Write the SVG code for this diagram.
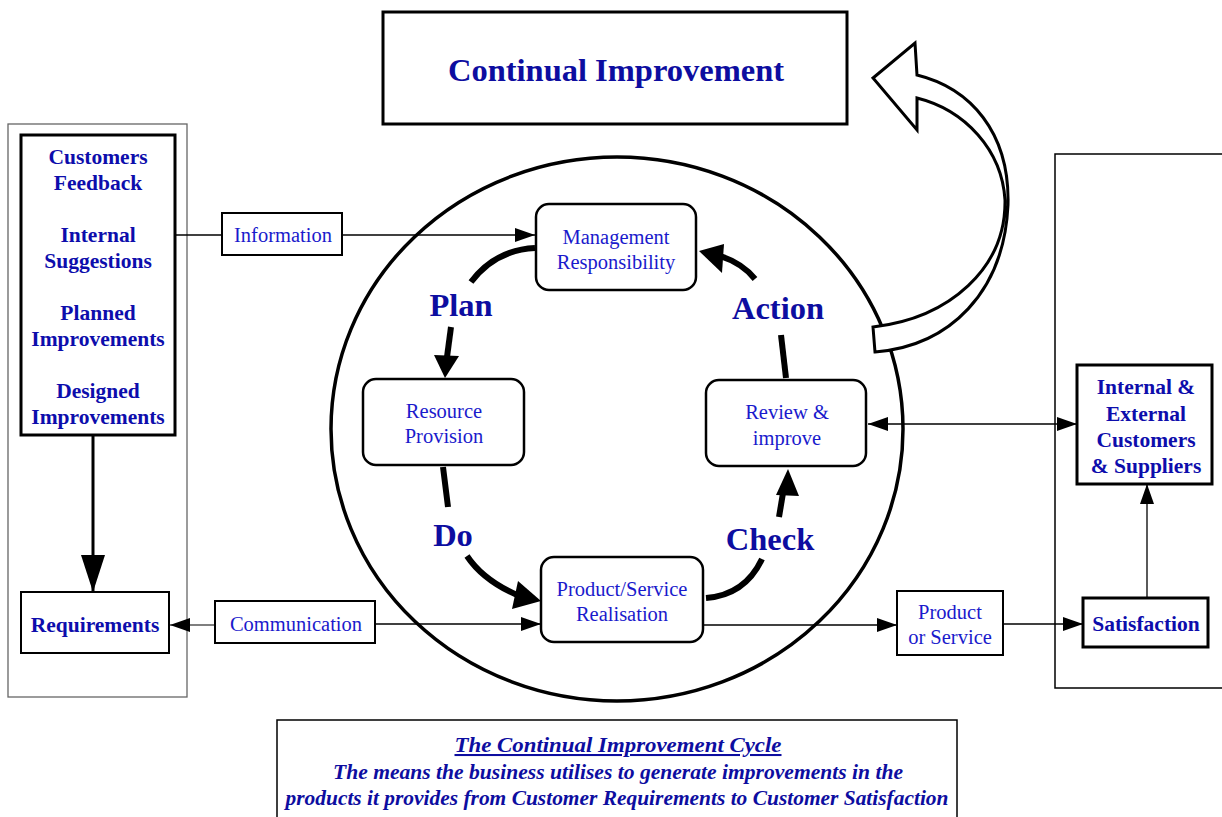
<svg xmlns="http://www.w3.org/2000/svg" width="1222" height="817" viewBox="0 0 1222 817">
<defs>
<style>
.t{font-family:"Liberation Serif","Times New Roman",serif;fill:#1a1acc;font-size:20.5px;text-anchor:middle}
.b{font-family:"Liberation Serif","Times New Roman",serif;fill:#0d0dac;font-weight:bold;font-size:21.5px;text-anchor:middle}
.big{font-family:"Liberation Serif","Times New Roman",serif;fill:#0d0da0;font-weight:bold;font-size:32.5px;text-anchor:middle}
.cap{font-family:"Liberation Serif","Times New Roman",serif;fill:#0d0da0;font-weight:bold;font-style:italic;font-size:20.5px;text-anchor:middle}
.rect{fill:#fff;stroke:#000;stroke-width:2}
.thick{fill:#fff;stroke:#000;stroke-width:3}
.rnd{fill:#fff;stroke:#000;stroke-width:2.5}
.ln{fill:none;stroke:#000;stroke-width:1.3}
.cyc{fill:none;stroke:#000;stroke-width:6}
</style>
<marker id="ah" viewBox="0 0 20 14" refX="20" refY="7" markerWidth="20" markerHeight="14" markerUnits="userSpaceOnUse" orient="auto-start-reverse">
<path d="M0,0 L20,7 L0,14 Z" fill="#000"/>
</marker>
</defs>
<rect width="1222" height="817" fill="#fff"/>

<g id="left-panel">
<rect x="8" y="124" width="179" height="573" fill="#fff" stroke="#666" stroke-width="1.3"/>
</g>
<g id="right-panel">
<path d="M1224,154 L1055,154 L1055,688 L1224,688" fill="none" stroke="#000" stroke-width="1.5"/>
</g>

<g id="cycle-circle">
<ellipse cx="617" cy="429" rx="286" ry="272" fill="none" stroke="#000" stroke-width="3.5"/>
</g>

<g id="connectors">
<line class="ln" x1="176" y1="235" x2="222" y2="235"/>
<line class="ln" x1="342" y1="235" x2="535" y2="235" marker-end="url(#ah)"/>
<line x1="93" y1="435" x2="93" y2="592" stroke="#000" stroke-width="3"/>
<path d="M81,555 L105,555 L93,592 Z" fill="#000"/>
<line x1="215" y1="625" x2="170" y2="625" stroke="#555" stroke-width="1.5" marker-end="url(#ah)"/>
<line class="ln" x1="375" y1="624" x2="541" y2="624" marker-end="url(#ah)"/>
<line class="ln" x1="703" y1="625" x2="897" y2="625" marker-end="url(#ah)"/>
<line class="ln" x1="1003" y1="624" x2="1083" y2="624" marker-end="url(#ah)"/>
<line class="ln" x1="1147" y1="598" x2="1147" y2="484" marker-end="url(#ah)"/>
<line class="ln" x1="868" y1="424" x2="1077" y2="424" marker-start="url(#ah)" marker-end="url(#ah)"/>
<path class="cyc" d="M535,248 Q495,250 471,282"/>
<line class="cyc" x1="451" y1="327" x2="447" y2="357"/>
<path d="M434,355 L459,356 L445,378 Z" fill="#000"/>
<line class="cyc" x1="443" y1="467" x2="448" y2="507"/>
<path class="cyc" d="M467,556 Q483,580 517,595"/>
<path d="M541,601 L518,581 L512,609 Z" fill="#000"/>
<path class="cyc" d="M706,598 Q745,595 762,559"/>
<line class="cyc" x1="779" y1="517" x2="783" y2="493"/>
<path d="M788,469 L776,495 L799,496 Z" fill="#000"/>
<line class="cyc" x1="786" y1="378" x2="781" y2="335"/>
<path class="cyc" d="M755,279 Q742,263 720,256"/>
<path d="M699,251 L724,244 L722,273 Z" fill="#000"/>
</g>

<g id="improvement-arrow">
<path d="M873,327 L875,352 C950,346 1004,292 1008,205 C1010,132 970,88 917,75 L915,43 L873,78 L917,130 L917,98 C965,110 1002,150 1005,200 C1006,268 950,318 873,327 Z" fill="#fff" stroke="#000" stroke-width="3" stroke-linejoin="miter"/>
</g>

<g id="title">
<rect class="thick" x="383" y="12" width="464" height="112"/>
<text class="big" x="616" y="81">Continual Improvement</text>
</g>

<g id="inputs">
<rect class="thick" x="21" y="135" width="154" height="300"/>
<text class="b" x="98" y="164">Customers</text>
<text class="b" x="98" y="190">Feedback</text>
<text class="b" x="98" y="242">Internal</text>
<text class="b" x="98" y="268">Suggestions</text>
<text class="b" x="98" y="320">Planned</text>
<text class="b" x="98" y="346">Improvements</text>
<text class="b" x="98" y="398">Designed</text>
<text class="b" x="98" y="424">Improvements</text>
</g>

<g id="requirements">
<rect class="rect" x="21" y="592" width="148" height="61"/>
<text class="b" x="95" y="632">Requirements</text>
</g>

<g id="information">
<rect class="rect" x="222" y="213" width="120" height="42"/>
<text class="t" x="283" y="242">Information</text>
</g>

<g id="communication">
<rect class="rect" x="215" y="601" width="160" height="42"/>
<text class="t" x="296" y="631">Communication</text>
</g>

<g id="management">
<rect class="rnd" x="536" y="204" width="160" height="86" rx="13"/>
<text class="t" x="616" y="244">Management</text>
<text class="t" x="616" y="269">Responsibility</text>
</g>

<g id="resource">
<rect class="rnd" x="363" y="379" width="161" height="86" rx="13"/>
<text class="t" x="444" y="418">Resource</text>
<text class="t" x="444" y="443">Provision</text>
</g>

<g id="review">
<rect class="rnd" x="706" y="380" width="160" height="86" rx="13"/>
<text class="t" x="787" y="419">Review &amp;</text>
<text class="t" x="787" y="445">improve</text>
</g>

<g id="realisation">
<rect class="rnd" x="541" y="557" width="162" height="85" rx="13"/>
<text class="t" x="622" y="596">Product/Service</text>
<text class="t" x="622" y="621">Realisation</text>
</g>

<g id="pdca-labels">
<text class="big" x="461" y="316">Plan</text>
<text class="big" x="778" y="319">Action</text>
<text class="big" x="453" y="546">Do</text>
<text class="big" x="770" y="550">Check</text>
</g>

<g id="product-service">
<rect class="rect" x="897" y="591" width="106" height="64"/>
<text class="t" x="950" y="619">Product</text>
<text class="t" x="950" y="644">or Service</text>
</g>

<g id="customers">
<rect class="thick" x="1077" y="365" width="135" height="119"/>
<text class="b" x="1146" y="394">Internal &amp;</text>
<text class="b" x="1146" y="421">External</text>
<text class="b" x="1146" y="447">Customers</text>
<text class="b" x="1146" y="473">&amp; Suppliers</text>
</g>

<g id="satisfaction">
<rect class="thick" x="1083" y="598" width="125" height="49"/>
<text class="b" x="1146" y="631">Satisfaction</text>
</g>

<g id="caption">
<rect x="277" y="720" width="680" height="100" fill="#fff" stroke="#000" stroke-width="1.5"/>
<text class="cap" x="618" y="752" text-decoration="underline" textLength="327" lengthAdjust="spacingAndGlyphs">The Continual Improvement Cycle</text>
<text class="cap" x="618" y="779" textLength="570" lengthAdjust="spacingAndGlyphs">The means the business utilises to generate improvements in the</text>
<text class="cap" x="617" y="805" textLength="663" lengthAdjust="spacingAndGlyphs">products it provides from Customer Requirements to Customer Satisfaction</text>
</g>
</svg>
